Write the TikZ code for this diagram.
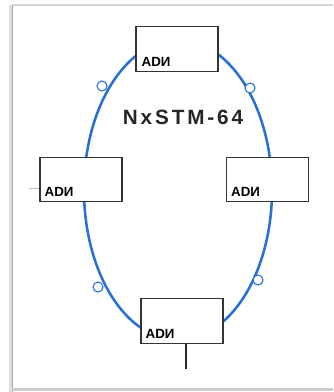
\documentclass[tikz,border=0pt]{standalone}
\usepackage{fontspec}
\setmainfont{Liberation Sans}
\newfontfamily\ringtitlefont[LetterSpace=14]{Liberation Sans}
\usetikzlibrary{calc}
\definecolor{ringblue}{RGB}{38,112,214}
\definecolor{framegray}{RGB}{170,170,170}
\tikzset{
  admbox/.style={draw=black!80, line width=0.9pt, fill=white,
    minimum width=61.5pt, minimum height=33.5pt, inner sep=0pt},
  admtext/.style={anchor=base west, inner sep=0pt, text=black,
    font=\fontsize{10}{12}\selectfont\bfseries},
  ring/.style={draw=ringblue, line width=1.9pt},
  ringmark/.style={draw=ringblue, line width=0.8pt, fill=white,
    circle, minimum size=7.5pt, inner sep=0pt},
  stub/.style={draw=black!85, line width=0.8pt},
  softstub/.style={draw=black!25, line width=0.6pt}
}
\begin{document}
\begin{tikzpicture}[x=0.75pt,y=-0.75pt]
\useasboundingbox (0,0) rectangle (333,392);
% page frame
\draw[framegray!50, line width=0.8pt] (12,5) -- (333,5);
\draw[framegray!40, line width=2.5pt] (11,5) -- (11,392);
\draw[framegray, line width=1.2pt] (12.5,5) -- (12.5,392);
\draw[framegray!60, line width=2pt] (12,389.5) -- (333,389.5);

% the ring
\coordinate (ringc) at (178,190);
\draw[ring] (ringc) ellipse [x radius=70.5pt, y radius=112.5pt];

% small markers on the ring
\node[ringmark] (m1) at (102,86) {};
\node[ringmark] (m2) at (250,88) {};
\node[ringmark] (m3) at (98,287) {};
\node[ringmark] (m4) at (258,280) {};

% ADM boxes
\node[admbox] (top)   at (177,49) {};
\node[admbox] (left)  at (81,179.5) {};
\node[admbox] (right) at (267.5,179.5) {};
\node[admbox] (bot)   at (182,321) {};

\node[admtext] (toptxt)   at ($(top.south west)+(6,-5)$) {ADИ};
\node[admtext] (lefttxt)  at ($(left.south west)+(5,-6)$) {ADИ};
\node[admtext] (righttxt) at ($(right.south west)+(5,-6)$) {ADИ};
\node[admtext] (bottxt)   at ($(bot.south west)+(5,-5)$) {ADИ};

% tributary stubs
\coordinate (botend) at (186,369);
\draw[stub] (bot.south -| botend) -- (botend);
\coordinate (leftend) at (29,188);
\draw[softstub] (leftend) -- (leftend -| left.west);

% ring title
\node[inner sep=0pt, text=black!85,
  font=\ringtitlefont\fontsize{15.5}{18}\selectfont\bfseries] (title) at (183,117) {NxSTM-64};
\end{tikzpicture}
\end{document}
